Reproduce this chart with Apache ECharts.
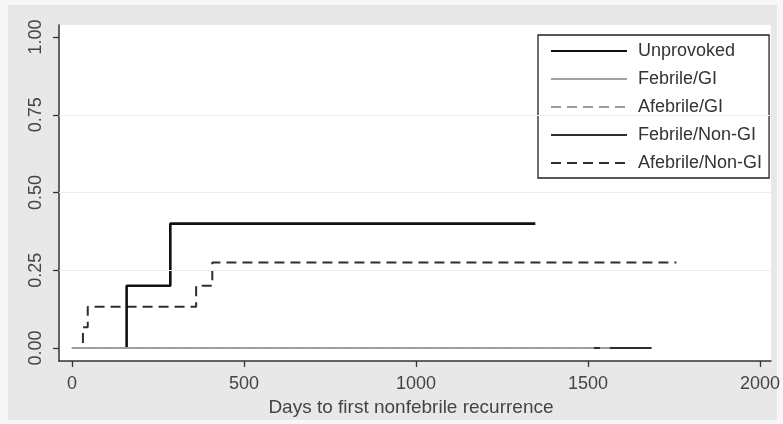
<!DOCTYPE html>
<html>
<head>
<meta charset="utf-8">
<script src="https://cdn.jsdelivr.net/npm/echarts@6/dist/echarts.min.js"></script>
<style>
html,body{margin:0;padding:0;background:#f7f7f7;}
#c{width:783px;height:424px;}
</style>
</head>
<body>
<div id="c"></div>
<script>
// ---- data (days, cumulative failure) ----
const seriesNames = ['Unprovoked','Febrile/GI','Afebrile/GI','Febrile/Non-GI','Afebrile/Non-GI'];
const unprovokedDays = [159, 159, 286, 1347];
const unprovokedFail = [0, 0.2, 0.4, 0.4];
const febrileGIDays = [0, 1497];
const febrileGIFail = [0, 0];
const afebrileGIDays = [0, 1578];
const afebrileGIFail = [0, 0];
const febrileNonGIDays = [0, 1685];
const febrileNonGIFail = [0, 0];
const afebrileNonGIDays = [0, 32, 46, 361, 408, 1757];
const afebrileNonGIFail = [0, 0.067, 0.133, 0.2, 0.275, 0.275];
const xTicks = [0, 500, 1000, 1500, 2000];
const yTicks = [0, 0.25, 0.5, 0.75, 1];
const yGrid = [0.25, 0.5, 0.75];
const xTitle = 'Days to first nonfebrile recurrence';

const pairs = (xs, ys) => xs.map((x, i) => [x, ys[i]]);
const FONT = 'Arial, "Liberation Sans", sans-serif';

const chart = echarts.init(document.getElementById('c'), null, {renderer: 'canvas'});
function mk(name, xs, ys, color, width, type, z) {
  return {
    name: name, type: 'line', step: 'end', symbol: 'none', showSymbol: false,
    data: pairs(xs, ys), z: z, animation: false,
    lineStyle: {color: color, width: width, type: type, cap: 'butt'},
    itemStyle: {color: color}
  };
}
const series = [
  mk(seriesNames[0], unprovokedDays, unprovokedFail, '#111111', 2.6, 'solid', 4),
  mk(seriesNames[1], febrileGIDays, febrileGIFail, '#a2a2a2', 2, 'solid', 5),
  mk(seriesNames[2], afebrileGIDays, afebrileGIFail, '#9c9c9c', 2, [10, 6], 5),
  mk(seriesNames[3], febrileNonGIDays, febrileNonGIFail, '#2e2e2e', 2, 'solid', 2),
  mk(seriesNames[4], afebrileNonGIDays, afebrileNonGIFail, '#2e2e2e', 2, [10, 6], 3)
];
series[3].markLine = {
  silent: true, symbol: 'none', label: {show: false}, animation: false,
  lineStyle: {color: '#ededed', width: 1, type: 'solid'},
  data: yGrid.map(v => ({yAxis: v}))
};

chart.setOption({
  animation: false,
  backgroundColor: '#f7f7f7',
  graphic: [{
    type: 'rect', z: -10, silent: true,
    shape: {x: 8, y: 5, width: 769, height: 415},
    style: {fill: '#e8e8e8'}
  }],
  grid: {left: 59, top: 25, right: 8, bottom: 63, show: true, backgroundColor: '#ffffff', borderWidth: 0},
  legend: {
    data: seriesNames, orient: 'vertical', left: 538, top: 35,
    padding: [6, 7, 5, 12], itemGap: 8, itemWidth: 76, itemHeight: 20,
    borderColor: '#222', borderWidth: 1.3, backgroundColor: '#ffffff',
    itemStyle: {opacity: 0},
    textStyle: {fontFamily: FONT, fontSize: 18, color: '#333', lineHeight: 20, padding: [0, 0, 0, 6]}
  },
  xAxis: {
    type: 'value', min: -37.6, max: 2031.8,
    axisLine: {show: true, onZero: false, lineStyle: {color: '#333', width: 1.5}},
    axisTick: {show: true, length: 6, lineStyle: {color: '#333', width: 1.3}, customValues: xTicks},
    axisLabel: {customValues: xTicks, fontFamily: FONT, fontSize: 18, color: '#444', margin: 14,
      formatter: v => String(v)},
    splitLine: {show: false},
    name: xTitle, nameLocation: 'middle', nameGap: 34,
    nameTextStyle: {fontFamily: FONT, fontSize: 19, color: '#444', padding: [0, 8, 0, 0]}
  },
  yAxis: {
    type: 'value', min: -0.0418, max: 1.0386,
    axisLine: {show: true, onZero: false, lineStyle: {color: '#333', width: 1.5}},
    axisTick: {show: true, length: 6, lineStyle: {color: '#333', width: 1.3}, customValues: yTicks},
    axisLabel: {customValues: yTicks, rotate: 90, fontFamily: FONT, fontSize: 18, color: '#444', margin: 14,
      formatter: v => v.toFixed(2)},
    splitLine: {show: false}
  },
  series: series
});
</script>
</body>
</html>
